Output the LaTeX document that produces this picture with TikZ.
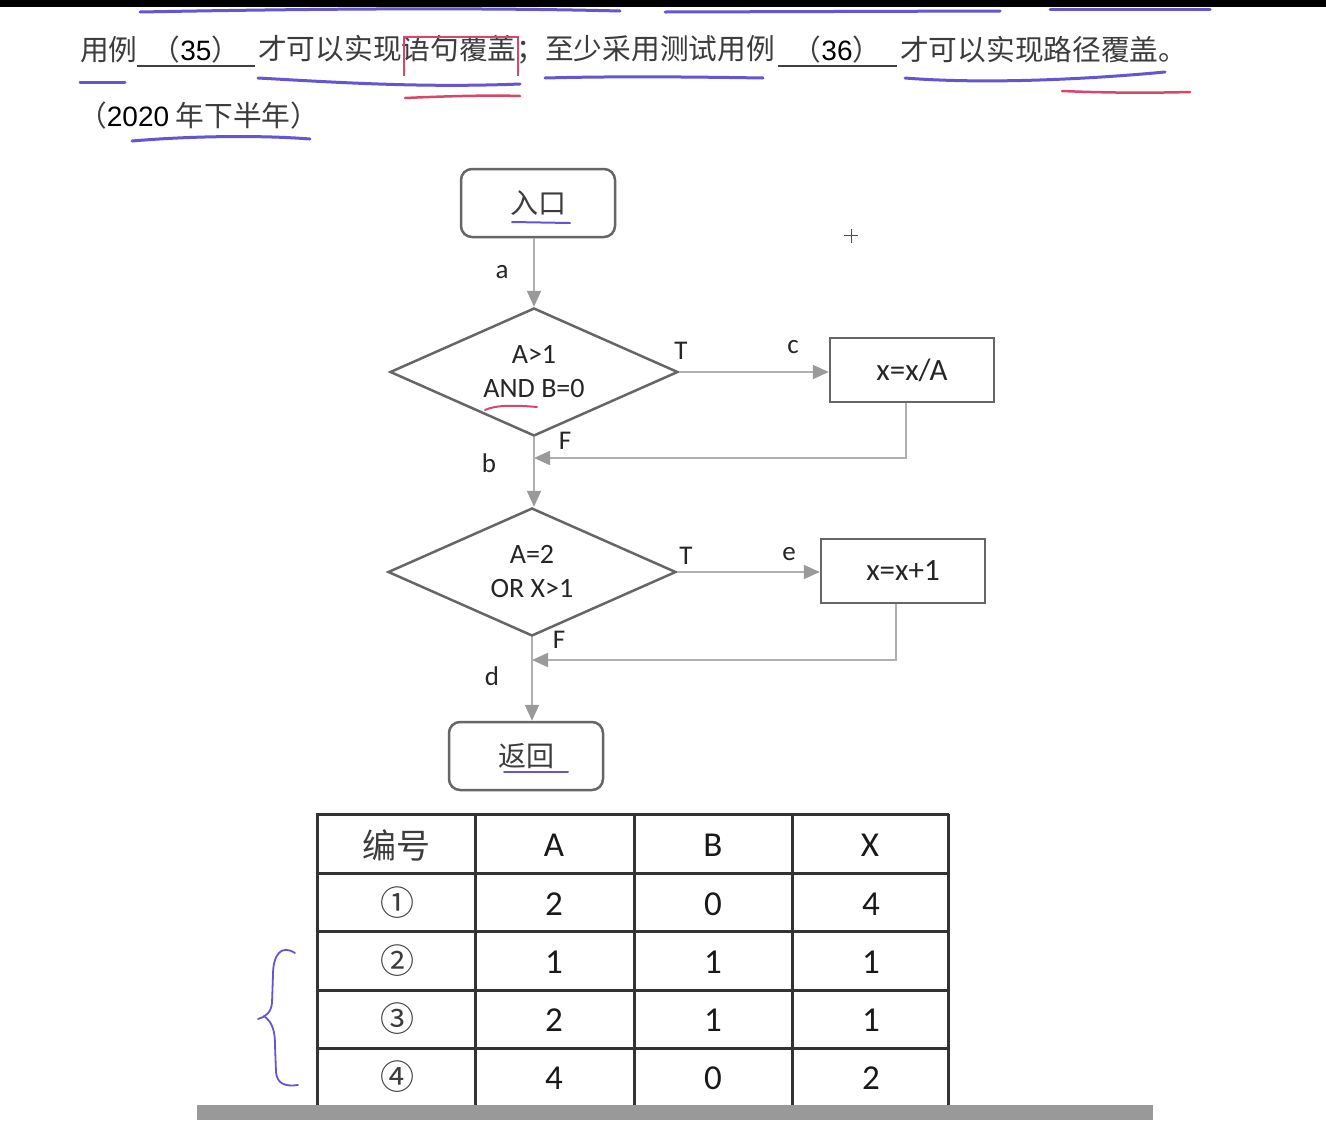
\documentclass[tikz,border=0pt]{standalone}
\usepackage{fontspec}
\setmainfont{Carlito}
\newfontfamily\cjk{Noto Sans CJK SC}
\newfontfamily\arial{Liberation Sans}
\usetikzlibrary{shapes.geometric,arrows.meta}
\definecolor{boxgray}{HTML}{666666}
\definecolor{conngray}{HTML}{B0B0B0}
\definecolor{arrowgray}{HTML}{9A9A9A}
\definecolor{textgray}{HTML}{3C3C3C}
\definecolor{handblue}{HTML}{6456D2}
\definecolor{handred}{HTML}{D8476A}
\begin{document}
\begin{tikzpicture}[x=1pt,y=-1pt,
  term/.style={draw=boxgray, line width=2.5pt, rounded corners=11pt, minimum width=154pt, minimum height=68pt, inner sep=0pt, font=\cjk\fontsize{28}{30}\selectfont, text=textgray},
  dec/.style={diamond, draw=boxgray, line width=2.5pt, minimum width=288pt, minimum height=128pt, inner sep=0pt, aspect=2.25, align=center, font=\fontsize{28}{34}\selectfont, text=black!85},
  proc/.style={draw=boxgray, line width=2.5pt, minimum width=164pt, minimum height=64pt, inner sep=0pt, font=\fontsize{31}{32}\selectfont, text=black!85},
  conn/.style={draw=conngray, line width=2pt, -{Triangle[length=16pt,width=14pt,color=arrowgray]}},
  lbl/.style={font=\fontsize{27}{28}\selectfont, text=black!85, inner sep=0pt},
  cell/.style={font=\fontsize{35}{36}\selectfont, text=black!90, inner sep=0pt},
  cjkcell/.style={font=\cjk\fontsize{34}{36}\selectfont, text=textgray, inner sep=0pt},
  title/.style={font=\cjk\fontsize{28.7}{30}\selectfont, text=textgray, inner sep=0pt, anchor=west},
  hand/.style={draw=handblue, line width=3pt, line cap=round},
  hred/.style={draw=handred, line width=2.5pt, line cap=round}
]
\useasboundingbox (0,0) rectangle (1326,1120);
\fill[white] (0,0) rectangle (1326,1120);
\fill[black] (0,0) rectangle (1326,7);

% ---------- title text ----------
\node[title] (t1) at (80,50) {用例};
\node[title, anchor=center] (b35) at (196,50) {（{\arial\fontsize{28}{30}\selectfont\color{black}35}）};
\draw[line width=2.5pt, black!75] (137,66) -- (255,66);
\node[title] (t2) at (258,50) {才可以实现语句覆盖；至少采用测试用例};
\node[title, anchor=center] (b36) at (837,50) {（{\arial\fontsize{28}{30}\selectfont\color{black}36}）};
\draw[line width=2.5pt, black!75] (778,66) -- (897,66);
\node[title] (t3) at (900,50) {才可以实现路径覆盖。};
\node[title] (t4) at (78,116) {（{\arial\fontsize{28}{30}\selectfont\color{black}2020} 年下半年）};

% hand annotations on title
\draw[hand] (140,12) .. controls (350,8) and (500,8) .. (620,11);
\draw[hand] (665,12) -- (1000,11);
\draw[hand] (1050,9) -- (1210,9);
\draw[hand] (80,82) -- (125,82);
\draw[hand] (258,78) .. controls (330,82) and (420,88) .. (520,84);
\draw[hred] (405,98) .. controls (450,96) and (490,95) .. (520,96);
\draw[handred, line width=1.3pt] (404,76) -- (404,37) -- (518,37) -- (518,76);
\draw[hand] (545,78) .. controls (620,76) and (700,77) .. (763,78);
\draw[hand] (905,78) .. controls (980,84) and (1080,80) .. (1165,72);
\draw[hred] (1062,91) .. controls (1110,93) and (1150,93) .. (1190,92);
\draw[hand] (132,141) .. controls (190,136) and (260,135) .. (310,139);

% cursor cross
\draw[black!70, line width=1pt] (844,235) -- (858,235) (851,229) -- (851,243);

% ---------- flowchart ----------
\node[term] (entry) at (538,203) {入口};
\draw[hand, line width=2pt] (512,222) -- (570,223);
\node[dec] (d1) at (534,372) {A>1\\AND B=0};
\draw[hred, line width=2pt] (485,410) .. controls (495,405) and (515,405) .. (537,407);
\node[proc] (p1) at (912,370) {x=x/A};
\node[dec] (d2) at (532,572) {A=2\\OR X>1};
\node[proc] (p2) at (903,571) {x=x+1};
\node[term] (ret) at (526,756) {返回};
\draw[hand, line width=2pt] (504,772) -- (568,772);

\coordinate (m1) at (534,458);
\coordinate (m2) at (532,660);

\draw[conn] (entry.south -| d1.north) -- (d1.north);
\draw[conn] (d1.east) -- (d1.east -| p1.west);
\draw[conn] ([xshift=-6pt]p1.south) |- (m1);
\draw[conn] (d1.south) -- (d1.south |- d2.north);
\draw[conn] (d2.east) -- (d2.east -| p2.west);
\draw[conn] ([xshift=-7pt]p2.south) |- (m2);
\draw[conn] (d2.south) -- (ret.north -| d2.south);

\node[lbl] (la) at (502,272) {a};
\node[lbl] (lt1) at (681,351) {T};
\node[lbl] (lc) at (793,347) {c};
\node[lbl] (lf1) at (565,441) {F};
\node[lbl] (lb) at (489,463) {b};
\node[lbl] (lt2) at (686,556) {T};
\node[lbl] (le) at (789,554) {e};
\node[lbl] (lf2) at (559,640) {F};
\node[lbl] (ld) at (492,676) {d};

% ---------- table ----------
\foreach \x in {317,475,634,792,948} \draw[black!80, line width=3pt] (\x,814) -- (\x,1107);
\foreach \y in {814,873,931,990,1048} \draw[black!80, line width=3pt] (316,\y) -- (949,\y);

\node[cjkcell] (h0) at (396,845) {编号};
\node[cell] (h1) at (554,845) {A};
\node[cell] (h2) at (713,845) {B};
\node[cell] (h3) at (870,845) {X};

\node[cjkcell] (r10) at (397,903) {①};
\node[cell] (r11) at (554,904) {2};
\node[cell] (r12) at (713,904) {0};
\node[cell] (r13) at (871,904) {4};

\node[cjkcell] (r20) at (397,961) {②};
\node[cell] (r21) at (554,962) {1};
\node[cell] (r22) at (713,962) {1};
\node[cell] (r23) at (871,962) {1};

\node[cjkcell] (r30) at (397,1019) {③};
\node[cell] (r31) at (554,1020) {2};
\node[cell] (r32) at (713,1020) {1};
\node[cell] (r33) at (871,1020) {1};

\node[cjkcell] (r40) at (397,1077) {④};
\node[cell] (r41) at (554,1078) {4};
\node[cell] (r42) at (713,1078) {0};
\node[cell] (r43) at (871,1078) {2};

% hand brace
\draw[draw=handblue, line width=1.8pt, line cap=round]
  (295,953) .. controls (281,944) and (273,955) .. (273,975)
  -- (272,1003) .. controls (271,1013) and (265,1017) .. (258,1019);
\draw[draw=handblue, line width=1.8pt, line cap=round]
  (264,1016) .. controls (272,1022) and (275,1030) .. (275,1045)
  -- (276,1072) .. controls (277,1083) and (284,1087) .. (298,1085);

% bottom gray bar
\fill[black!40] (197,1105) rectangle (1153,1120);
\end{tikzpicture}
\end{document}
